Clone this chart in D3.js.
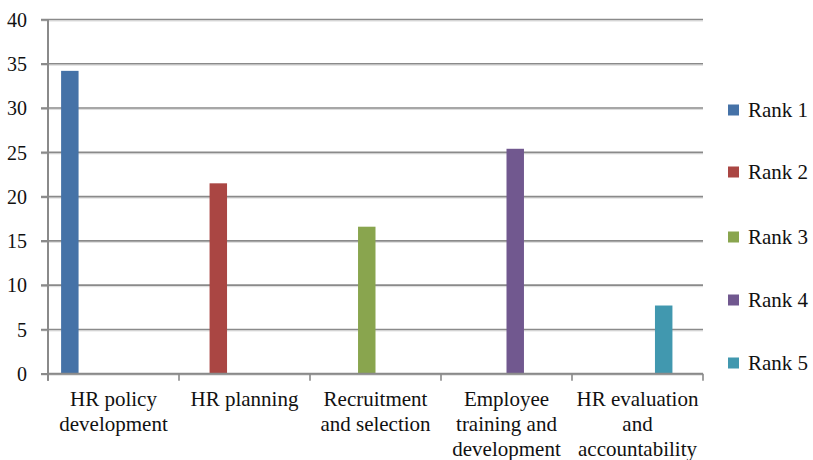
<!DOCTYPE html>
<html>
<head>
<meta charset="utf-8">
<script src="https://cdn.jsdelivr.net/npm/d3@7"></script>
</head>
<body style="margin:0">
<svg id="chart" width="813" height="460"></svg>
<script>
// Categories (label lines) and the five rank series
const categories = [
  ["HR policy", "development"],
  ["HR planning"],
  ["Recruitment", "and selection"],
  ["Employee", "training and", "development"],
  ["HR evaluation", "and", "accountability"]
];
const seriesNames = ["Rank 1", "Rank 2", "Rank 3", "Rank 4", "Rank 5"];
const rank1 = [34.2, 0, 0, 0, 0];
const rank2 = [0, 21.5, 0, 0, 0];
const rank3 = [0, 0, 16.6, 0, 0];
const rank4 = [0, 0, 0, 25.4, 0];
const rank5 = [0, 0, 0, 0, 7.7];
const seriesValues = [rank1, rank2, rank3, rank4, rank5];
const seriesColors = ["#4572a7", "#aa4643", "#89a54e", "#71588f", "#4198af"];
const yTicks = [0, 5, 10, 15, 20, 25, 30, 35, 40];

const svg = d3.select("#chart");
const plotLeft = 48, plotRight = 703, plotTop = 19.5, plotBottom = 373.7;
const gridColor = "#8a8a8a";

// serif text helper
function serif(sel, size) {
  sel.each(function() {
    this.setAttribute("font-family", "Liberation Serif");
    this.style.setProperty("font-family", "'Liberation Serif', Times, serif", "important");
    this.style.setProperty("font-size", size + "px", "important");
  });
  return sel;
}

const x0 = d3.scaleBand().domain(d3.range(categories.length)).range([plotLeft, plotRight]).padding(0);
// six slots per group (one unused), with Excel-like outer gap
const x1 = d3.scaleBand().domain(d3.range(seriesNames.length + 1))
  .range([0, x0.bandwidth()]).paddingInner(0).paddingOuter(0.75);
const y = d3.scaleLinear().domain([0, 40]).range([plotBottom, plotTop]);

// horizontal gridlines with a faint shadow
const grid = svg.append("g");
yTicks.forEach(t => {
  grid.append("line").attr("x1", plotLeft - 7).attr("x2", plotRight)
    .attr("y1", y(t) + 1.5).attr("y2", y(t) + 1.5)
    .attr("stroke", "#dcdcdc").attr("stroke-width", 1);
  grid.append("line").attr("x1", plotLeft - 7).attr("x2", plotRight)
    .attr("y1", y(t)).attr("y2", y(t))
    .attr("stroke", gridColor).attr("stroke-width", 1.6);
});

// y axis labels via d3 axis
const yAxis = svg.append("g").attr("transform", `translate(${plotLeft},0)`)
  .call(d3.axisLeft(y).tickValues(yTicks).tickSize(7).tickPadding(14))
  .attr("font-family", null).attr("font-size", null);
yAxis.select(".domain").remove();
yAxis.selectAll(".tick line").attr("stroke", gridColor).attr("stroke-width", 1.6);
serif(yAxis.selectAll(".tick text"), 20).attr("fill", "#111").attr("dy", "0.34em");

// vertical axis line
svg.append("line").attr("x1", plotLeft).attr("x2", plotLeft).attr("y1", plotTop).attr("y2", plotBottom + 7)
  .attr("stroke", gridColor).attr("stroke-width", 2);

// bars
const groups = svg.append("g").selectAll("g").data(categories).join("g")
  .attr("transform", (d, i) => `translate(${x0(i)},0)`);
groups.each(function(d, ci) {
  d3.select(this).selectAll("rect")
    .data(seriesValues.map((vals, si) => ({ si, v: vals[ci] })).filter(e => e.v > 0))
    .join("rect")
    .attr("x", e => x1(e.si))
    .attr("width", x1.bandwidth())
    .attr("y", e => y(e.v))
    .attr("height", e => y(0) - y(e.v))
    .attr("fill", e => seriesColors[e.si]);
});

// bottom axis line and category ticks
svg.append("line").attr("x1", plotLeft).attr("x2", plotRight).attr("y1", plotBottom).attr("y2", plotBottom)
  .attr("stroke", gridColor).attr("stroke-width", 2);
const boundaries = d3.range(categories.length + 1).map(i => i < categories.length ? x0(i) : plotRight);
svg.append("g").selectAll("line").data(boundaries).join("line")
  .attr("x1", d => d).attr("x2", d => d).attr("y1", plotBottom).attr("y2", plotBottom + 7)
  .attr("stroke", gridColor).attr("stroke-width", 1.6);

// category labels, one text per line
const labelLines = categories.flatMap((lines, ci) => lines.map((t, li) => ({ ci, li, t })));
serif(svg.append("g").selectAll("text").data(labelLines).join("text"), 21)
  .attr("text-anchor", "middle").attr("fill", "#111")
  .attr("x", d => x0(d.ci) + x0.bandwidth() / 2)
  .attr("y", d => 406 + d.li * 25)
  .text(d => d.t);

// legend
const legendY = [110, 172, 237, 300, 363];
const legend = svg.append("g").selectAll("g").data(seriesNames).join("g")
  .attr("transform", (d, i) => `translate(728,${legendY[i]})`);
legend.append("rect").attr("x", 0).attr("y", -5.5).attr("width", 11).attr("height", 11)
  .attr("fill", (d, i) => seriesColors[i]);
serif(legend.append("text"), 21).attr("x", 20).attr("y", 7).attr("fill", "#111").text(d => d);
</script>
</body>
</html>
